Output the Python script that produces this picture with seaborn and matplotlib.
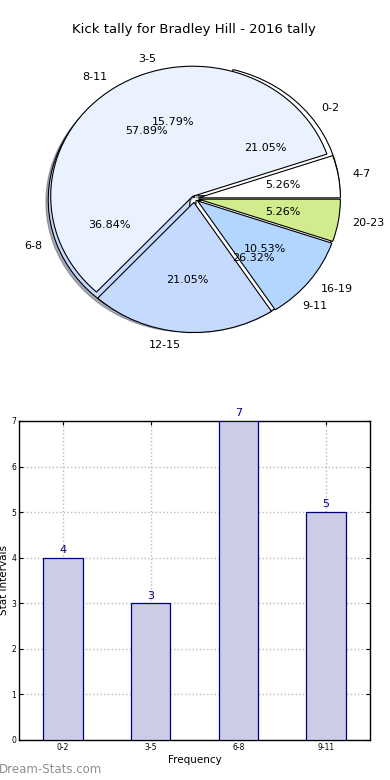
import matplotlib
matplotlib.use("Agg")
import matplotlib.pyplot as plt
import seaborn as sns
import pandas as pd

title = "Kick tally for Bradley Hill - 2016 tally"
pie_a_labels = ["0-2", "3-5", "6-8", "9-11"]
pie_a_values = [4, 3, 7, 5]
pie_b_labels = ["4-7", "8-11", "12-15", "16-19", "20-23"]
pie_b_values = [1, 11, 4, 2, 1]
bar_labels = ["0-2", "3-5", "6-8", "9-11"]
bar_values = [4, 3, 7, 5]

pie_a_colors = ["#FFFFFF", "#EBF2FF", "#C6D9FF", "#FFFFFF"]
pie_b_colors = ["#FFFFFF", "#EBF2FF", "#C6D9FF", "#B3D6FF", "#D0EC8C"]

sns.set_style("white")
plt.rcParams['font.family'] = ['DejaVu Sans']
plt.rcParams['text.color'] = 'black'
plt.rcParams['axes.labelcolor'] = 'black'
plt.rcParams['xtick.color'] = 'black'
plt.rcParams['ytick.color'] = 'black'

fig = plt.figure(figsize=(3.9, 7.8), dpi=100)

# Pie axes
ax1 = fig.add_axes([0.043, 0.537, 0.91, 0.417])
wp = dict(edgecolor="black", linewidth=0.8)
ax1.pie(pie_a_values, labels=pie_a_labels, colors=pie_a_colors,
        explode=[0.035, 0.005, 0.03, 0.02], autopct="%1.2f%%",
        shadow=dict(ox=-0.012, oy=-0.012, shade=0.6),
        wedgeprops=wp, textprops=dict(fontsize=8, color="black"), startangle=0)
ax1.pie(pie_b_values, labels=pie_b_labels, colors=pie_b_colors,
        explode=[0.03, 0.02, 0.03, 0.03, 0.03], autopct="%1.2f%%", shadow=False,
        wedgeprops=wp, textprops=dict(fontsize=8, color="black"), startangle=0)
ax1.set_aspect('auto')
ax1.set_xlim(-1.25, 1.25)
ax1.set_ylim(-1.25, 1.25)
ax1.set_title(title, fontsize=9.5, pad=0.5, color="black")

# Bar axes
ax2 = fig.add_axes([0.0487, 0.0513, 0.9, 0.409])
df = pd.DataFrame({"interval": bar_labels, "count": bar_values})
sns.barplot(data=df, x="interval", y="count", ax=ax2, width=0.45,
            color=(0.8, 0.8, 0.9), saturation=1, edgecolor="#000080",
            linewidth=0.9, zorder=3)
for i, v in enumerate(bar_values):
    ax2.text(i, v + 0.06, str(v), ha="center", va="bottom", color="#000080",
             fontsize=8)
ax2.set_xlim(-0.5, 3.5)
ax2.set_ylim(0, 7)
ax2.set_yticks(range(0, 8))
ax2.grid(True, linestyle=":", color="#bbbbbb", linewidth=1.0, zorder=0)
ax2.set_axisbelow(True)
for s in ax2.spines.values():
    s.set_color("black")
    s.set_linewidth(1.0)
ax2.tick_params(axis="both", labelsize=5.5, direction="in", length=3,
                top=True, right=True, bottom=True, left=True, pad=2)
ax2.set_xlabel("Frequency", fontsize=7.5, labelpad=2)
ax2.set_ylabel("Stat Intervals", fontsize=7.5, labelpad=2)

fig.text(-0.003, 0.005, "Dream-Stats.com", fontsize=8.5, color="#8f8f8f",
         ha="left", va="bottom")

fig.savefig("out.png", dpi=100)
